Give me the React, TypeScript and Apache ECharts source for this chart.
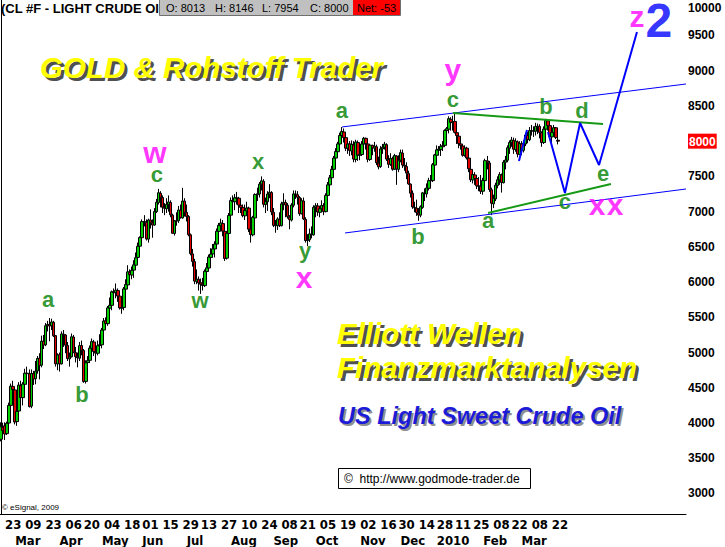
import React, { useEffect, useRef } from "react";
import * as echarts from "echarts";

const FONT = "'Liberation Sans', Arial, Helvetica, sans-serif";
const NARROW = "'Liberation Sans Narrow', 'Arial Narrow', 'DejaVu Sans Condensed', 'Liberation Sans', sans-serif";

// trading-day slots (data + empty projection area)
const SLOT_COUNT = 340;
const categories: string[] = Array.from({ length: SLOT_COUNT }, (_, i) => String(i));

// daily candles [open, close, low, high], price in cents
const feb09 = [
  [3770, 3948, 3740, 4010], [3940, 3894, 3780, 4005], [3960, 3844, 3760, 4010], [3850, 3996, 3830, 4020],
  [4000, 4250, 3920, 4290], [4250, 4522, 4180, 4560], [4520, 4476, 4380, 4600],
];
const mar09 = [
  [4470, 4015, 3980, 4490], [4020, 4165, 3960, 4230], [4170, 4538, 4130, 4580], [4530, 4361, 4300, 4600],
  [4360, 4552, 4250, 4580], [4550, 4707, 4450, 4770], [4700, 4707, 4550, 4800], [4700, 4233, 4220, 4760],
  [4240, 4703, 4210, 4760], [4700, 4625, 4540, 4740], [4630, 4735, 4550, 4880], [4740, 4916, 4700, 4950],
  [4920, 4814, 4620, 4990], [4820, 5161, 4790, 5240], [5160, 5106, 5050, 5250], [5110, 5380, 5090, 5420],
  [5380, 5398, 5300, 5450], [5400, 5377, 5160, 5490], [5380, 5434, 5320, 5480], [5430, 5238, 5220, 5450],
  [5240, 4841, 4800, 5250], [4840, 4966, 4750, 4990],
];
const apr09 = [
  [4970, 4839, 4730, 5000], [4840, 5264, 4830, 5300], [5260, 5251, 5080, 5320], [5250, 5105, 4990, 5260],
  [5100, 4915, 4880, 5150], [4910, 4938, 4800, 5000], [4940, 5224, 4930, 5270], [5220, 5005, 4990, 5250],
  [5000, 4941, 4860, 5080], [4940, 4925, 4790, 5000], [4920, 5098, 4880, 5150], [5100, 5033, 4960, 5170],
  [5030, 4588, 4570, 5050], [4590, 4855, 4560, 4890], [4860, 4886, 4760, 4950], [4890, 5062, 4850, 5100],
  [5060, 5155, 4990, 5200], [5150, 5014, 4950, 5180], [5010, 4992, 4870, 5060], [4990, 5097, 4960, 5170],
  [5100, 5112, 5000, 5260],
];
const may09 = [
  [5110, 5320, 5060, 5350], [5320, 5447, 5270, 5490], [5450, 5411, 5330, 5500], [5410, 5634, 5380, 5660],
  [5630, 5671, 5580, 5780], [5670, 5863, 5600, 5880], [5860, 5850, 5700, 5910], [5850, 5885, 5770, 5980],
  [5880, 5802, 5720, 5910], [5800, 5634, 5610, 5850], [5630, 5634, 5550, 5720], [5640, 5903, 5600, 5930],
  [5900, 5965, 5880, 6040], [5960, 6145, 5920, 6240], [6140, 6105, 5960, 6180], [6100, 6167, 6040, 6220],
  [6170, 6245, 6060, 6310], [6240, 6345, 6220, 6420], [6350, 6508, 6280, 6560], [6510, 6631, 6420, 6650],
];
const jun09 = [
  [6630, 6858, 6620, 6890], [6860, 6855, 6790, 6950], [6850, 6612, 6590, 6890], [6610, 6881, 6560, 6900],
  [6880, 6844, 6760, 7032], [6840, 6809, 6630, 6890], [6810, 7001, 6800, 7050], [7000, 7133, 6980, 7180],
  [7130, 7268, 7100, 7323], [7260, 7204, 7060, 7290], [7200, 7062, 6980, 7230], [7060, 7047, 6950, 7120],
  [7040, 7103, 6980, 7190], [7100, 7137, 7000, 7230], [7130, 6955, 6920, 7160], [6950, 6693, 6690, 6970],
  [6690, 6867, 6660, 6880], [6870, 6867, 6800, 6990], [6870, 7023, 6840, 7080], [7020, 6916, 6900, 7100],
  [6910, 7149, 6900, 7338], [7150, 6989, 6930, 7190],
];
const jul09 = [
  [6990, 6931, 6860, 7100], [6930, 6673, 6650, 6950], [6670, 6405, 6380, 6690], [6400, 6293, 6220, 6470],
  [6290, 6014, 5970, 6330], [6010, 6041, 5970, 6180], [6040, 5989, 5880, 6080], [5990, 5969, 5832, 6050],
  [5970, 5952, 5880, 6060], [5950, 6154, 5930, 6180], [6150, 6202, 6060, 6270], [6200, 6356, 6170, 6390],
  [6350, 6398, 6300, 6480], [6400, 6472, 6350, 6540], [6470, 6540, 6350, 6580], [6540, 6722, 6510, 6760],
  [6720, 6805, 6640, 6840], [6800, 6838, 6730, 6900], [6830, 6723, 6650, 6880], [6720, 6335, 6300, 6740],
  [6340, 6694, 6320, 6720], [6690, 6945, 6660, 6980],
];
const aug09 = [
  [6950, 7158, 6930, 7200], [7150, 7142, 7050, 7230], [7140, 7197, 7020, 7250], [7190, 7194, 7100, 7280],
  [7190, 7093, 6980, 7210], [7090, 7060, 6980, 7160], [7060, 6945, 6920, 7100], [6940, 7016, 6880, 7100],
  [7010, 7052, 6980, 7140], [7050, 6751, 6710, 7070], [6750, 6675, 6560, 6790], [6670, 6919, 6650, 6940],
  [6910, 7242, 6880, 7260], [7240, 7254, 7150, 7340], [7250, 7389, 7200, 7420], [7390, 7437, 7300, 7500],
  [7430, 7105, 7060, 7460], [7100, 7143, 6980, 7200], [7140, 7249, 7010, 7290], [7250, 7274, 7190, 7390],
  [7270, 6996, 6950, 7290],
];
const sep09 = [
  [6990, 6805, 6780, 7050], [6800, 6805, 6700, 6880], [6800, 6896, 6740, 6920], [6890, 6802, 6780, 6990],
  [6800, 7110, 6790, 7140], [7110, 7131, 7020, 7260], [7130, 7094, 6920, 7170], [7090, 6929, 6900, 7120],
  [6920, 6886, 6750, 6950], [6880, 7093, 6860, 7120], [7090, 7251, 7060, 7300], [7250, 7247, 7180, 7300],
  [7240, 7204, 7100, 7290], [7200, 6971, 6940, 7220], [6970, 7155, 6960, 7190], [7150, 6897, 6880, 7200],
  [6890, 6589, 6560, 6920], [6590, 6602, 6510, 6680], [6600, 6684, 6570, 6760], [6680, 6671, 6620, 6790],
  [6670, 7061, 6660, 7090],
];
const oct09 = [
  [7060, 7082, 6920, 7120], [7080, 6995, 6940, 7120], [6990, 7041, 6920, 7080], [7040, 7088, 7000, 7160],
  [7080, 7000, 6950, 7120], [7000, 7230, 6990, 7260], [7230, 7380, 7200, 7420], [7380, 7480, 7350, 7520],
  [7480, 7600, 7450, 7650], [7600, 7760, 7580, 7790], [7760, 7853, 7720, 7900], [7850, 7961, 7800, 7990],
  [7960, 8080, 7900, 8120], [8080, 8137, 7990, 8200], [8130, 8050, 7980, 8180], [8050, 7900, 7860, 8080],
  [7900, 7960, 7820, 8020], [7960, 7868, 7790, 8000], [7860, 7955, 7800, 8010], [7950, 7746, 7700, 8000],
  [7740, 7987, 7700, 8020], [7980, 7800, 7720, 8010],
];
const nov09 = [
  [7800, 7813, 7730, 7960], [7810, 7960, 7790, 8000], [7960, 8040, 7900, 8060], [8040, 7962, 7880, 8050],
  [7960, 7743, 7700, 7990], [7740, 7943, 7720, 7960], [7940, 7905, 7800, 7950], [7900, 7928, 7850, 7990],
  [7920, 7694, 7660, 7950], [7690, 7635, 7600, 7780], [7640, 7890, 7620, 7930], [7890, 7914, 7820, 7960],
  [7910, 7958, 7880, 7990], [7950, 7746, 7720, 7970], [7740, 7672, 7620, 7800], [7670, 7756, 7650, 7830],
  [7750, 7602, 7580, 7780], [7600, 7796, 7590, 7820], [7790, 7605, 7380, 7800], [7600, 7728, 7560, 7800],
];
const dec09 = [
  [7730, 7837, 7700, 7880], [7830, 7660, 7620, 7880], [7660, 7646, 7580, 7760], [7640, 7547, 7460, 7700],
  [7540, 7393, 7380, 7580], [7390, 7262, 7200, 7400], [7260, 7067, 7040, 7300], [7060, 7054, 6990, 7140],
  [7050, 6987, 6940, 7170], [6980, 6951, 6870, 7050], [6950, 7069, 6920, 7090], [7060, 7266, 7040, 7280],
  [7260, 7258, 7150, 7330], [7250, 7336, 7200, 7400], [7330, 7440, 7300, 7480], [7440, 7440, 7370, 7520],
  [7440, 7667, 7420, 7690], [7660, 7805, 7640, 7820], [7800, 7877, 7760, 7940], [7870, 7887, 7800, 7930],
  [7880, 7928, 7790, 7960], [7920, 7936, 7860, 8000],
];
const jan10 = [
  [7940, 8151, 7920, 8168], [8150, 8177, 8060, 8200], [8170, 8318, 8110, 8352], [8310, 8266, 8150, 8340],
  [8260, 8275, 8150, 8360], [8280, 8125, 8110, 8400], [8120, 8079, 7960, 8160], [8070, 7965, 7900, 8090],
  [7960, 7939, 7880, 8010], [7930, 7800, 7780, 7960], [7800, 7902, 7780, 7940], [7900, 7762, 7740, 7920],
  [7760, 7608, 7560, 7780], [7600, 7454, 7420, 7640], [7450, 7526, 7400, 7580], [7520, 7471, 7380, 7560],
  [7470, 7367, 7320, 7520], [7360, 7364, 7290, 7490], [7360, 7289, 7250, 7520],
];
const feb10 = [
  [7290, 7443, 7240, 7480], [7440, 7723, 7420, 7750], [7720, 7698, 7600, 7790], [7690, 7314, 7280, 7720],
  [7310, 7119, 6950, 7340], [7110, 7189, 7050, 7240], [7180, 7375, 7150, 7410], [7370, 7452, 7330, 7500],
  [7450, 7528, 7380, 7560], [7520, 7413, 7270, 7540], [7410, 7701, 7400, 7730], [7700, 7733, 7600, 7790],
  [7730, 7906, 7700, 7940], [7900, 7981, 7820, 8010], [7980, 8016, 7920, 8060], [8010, 7886, 7820, 8050],
  [7880, 8000, 7850, 8040], [7990, 7817, 7770, 8010], [7810, 7966, 7800, 8000],
];
const mar10 = [
  [7960, 7870, 7800, 8000], [7870, 7968, 7840, 8010], [7960, 8087, 7930, 8120], [8080, 8021, 7970, 8130],
  [8020, 8150, 8000, 8200], [8150, 8149, 8080, 8230], [8140, 8145, 8060, 8210], [8140, 8209, 8080, 8260],
  [8200, 8211, 8100, 8250], [8210, 8124, 8040, 8240], [8120, 7980, 7920, 8140], [7980, 8170, 7960, 8210],
  [8170, 8293, 8150, 8316], [8290, 8220, 8150, 8310], [8220, 8068, 8020, 8250], [8060, 8125, 7980, 8160],
  [8120, 8191, 8090, 8230], [8190, 8053, 8030, 8200], [8013, 8000, 7954, 8146],
];

// axis tick labels
const dayTickIdx = [2, 12, 22, 32, 41, 51, 61, 70, 80, 90, 99, 109, 119, 129, 139, 148, 158, 168, 178, 188, 197, 207, 216, 225, 234, 244, 253, 263, 273];
const dayTickText = ["23", "09", "23", "06", "20", "04", "18", "01", "15", "29", "13", "27", "10", "24", "08", "21", "05", "19", "02", "16", "30", "14", "28", "11", "25", "08", "22", "08", "22"];
const monthTickIdx = [7, 29, 50, 70, 92, 114, 135, 156, 178, 198, 216, 239, 258];
const monthTickText = ["Mar", "Apr", "May", "Jun", "Jul", "Aug", "Sep", "Oct", "Nov", "Dec", "2010", "Feb", "Mar"];
const priceTicks = [3000, 3500, 4000, 4500, 5000, 5500, 6000, 6500, 7000, 7500, 8000, 8500, 9000, 9500];
const lastClose = 8000;

// drawn lines [slot, price]
const upperChannel = [[169.0, 8201], [339.5, 8811]];
const lowerChannel = [[170.5, 6697], [339.5, 7321]];
const upperGreen = [[224.0, 8399], [298.4, 8243]];
const lowerGreen = [[241.4, 6980], [302.3, 7392]];
const shortBlue = [[256.7, 7718], [260.7, 8158]];
const projection = [[271.1, 8130], [279.5, 7264], [287.0, 8258], [296.4, 7662], [315.2, 9549]];

// wave labels [text, slot, price]
const greenWaves: [string, number, number][] = [
  ["a", 23.3, 5746], ["b", 40.1, 4398], ["c", 77.3, 7520], ["w", 98.6, 5732], ["x", 127.4, 7718],
  ["y", 150.7, 6455], ["a", 169.0, 8428], ["b", 206.7, 6640], ["c", 224.0, 8598], ["a", 241.4, 6867],
  ["b", 270.1, 8485], ["d", 288.0, 8442], ["c", 279.5, 7137], ["e", 298.4, 7548],
];
const magentaWaves: [string, number, number][] = [
  ["w", 76.3, 7832], ["x", 150.2, 6072], ["y", 224.0, 9010], ["x", 295.4, 7108], ["x", 304.3, 7108], ["z", 315.2, 9762],
];
const blueWaves: [string, number, number][] = [["2", 326.1, 9719]];

const candles = [...feb09, ...mar09, ...apr09, ...may09, ...jun09, ...jul09, ...aug09, ...sep09, ...oct09, ...nov09, ...dec09, ...jan10, ...feb10, ...mar10];

const dayMap = new Map<number, string>(dayTickIdx.map((k, j) => [k, dayTickText[j]]));
const monthMap = new Map<number, string>(monthTickIdx.map((k, j) => [k, monthTickText[j]]));

function lineSeries(data: number[][], color: string, width: number) {
  return {
    type: "line",
    xAxisIndex: 2,
    yAxisIndex: 0,
    data,
    symbol: "none",
    silent: true,
    z: 5,
    lineStyle: { color, width },
  };
}

function labelSeries(items: [string, number, number][], color: string, size: number, weight: string, lineHeight?: number) {
  return {
    type: "scatter",
    xAxisIndex: 2,
    yAxisIndex: 0,
    silent: true,
    z: 10,
    symbolSize: 1,
    itemStyle: { color: "rgba(0,0,0,0)" },
    data: items.map(([t, i, v]) => ({ name: t, value: [i, v] })),
    label: {
      show: true,
      position: "inside",
      formatter: "{b}",
      color,
      fontSize: size,
      fontWeight: weight,
      fontFamily: FONT,
      lineHeight: lineHeight ?? size,
    },
  };
}

function shadowText(text: string, x: number, y: number, fill: string, shadow: string, font: string, off: number) {
  return [
    { type: "text", x: x + off, y: y + off, z: 50, style: { text, fill: shadow, font, verticalAlign: "middle" } },
    { type: "text", x, y, z: 51, style: { text, fill, font, verticalAlign: "middle" } },
  ];
}

export default function App() {
  const ref = useRef<HTMLDivElement>(null);
  useEffect(() => {
    const chart = echarts.init(ref.current!, null, { renderer: "svg" });
    const hdrFont = `11px ${FONT}`;
    const option: any = {
      animation: false,
      backgroundColor: "#ffffff",
      grid: { left: 0, right: 39, top: 0, bottom: 33, containLabel: false, outerBoundsMode: "none" },
      xAxis: [
        {
          type: "category",
          data: categories,
          boundaryGap: true,
          position: "bottom",
          axisLine: { show: true, onZero: false, lineStyle: { color: "#000", width: 1 } },
          axisTick: { show: false },
          splitLine: { show: false },
          axisLabel: {
            interval: (idx: number) => dayMap.has(idx),
            formatter: (val: string) => dayMap.get(Number(val)) ?? "",
            align: "left",
            margin: 4,
            color: "#000",
            fontSize: 13,
            fontWeight: "bold",
            fontFamily: NARROW,
            hideOverlap: false,
          },
        },
        {
          type: "category",
          data: categories,
          boundaryGap: true,
          position: "bottom",
          axisLine: { show: false, onZero: false },
          axisTick: { show: false },
          splitLine: { show: false },
          axisLabel: {
            interval: (idx: number) => monthMap.has(idx),
            formatter: (val: string) => monthMap.get(Number(val)) ?? "",
            align: "left",
            margin: 20,
            color: "#000",
            fontSize: 13,
            fontWeight: "bold",
            fontFamily: NARROW,
            hideOverlap: false,
          },
        },
        { type: "value", min: -0.5, max: SLOT_COUNT - 0.5, show: false },
      ],
      yAxis: {
        type: "value",
        position: "right",
        min: 2709,
        max: 10003,
        scale: true,
        axisLine: { show: true, lineStyle: { color: "#000", width: 1 } },
        axisTick: { show: false },
        splitLine: { show: false },
        axisLabel: {
          customValues: priceTicks,
          formatter: (v: number) => (v === lastClose ? `{cur|${v}}` : String(v)),
          align: "left",
          margin: 2,
          color: "#000",
          fontSize: 12,
          fontWeight: "bold",
          fontFamily: FONT,
          rich: {
            cur: {
              backgroundColor: "#ff0000",
              color: "#ffffff",
              fontSize: 12,
              fontWeight: "bold",
              fontFamily: FONT,
              padding: [2, 1, 1, 1],
            },
          },
        },
      },
      series: [
        {
          type: "candlestick",
          xAxisIndex: 0,
          yAxisIndex: 0,
          data: candles,
          barWidth: 3,
          silent: true,
          z: 2,
          itemStyle: {
            color: "#00d000",
            color0: "#e00000",
            borderColor: "#000000",
            borderColor0: "#000000",
            borderColorDoji: "#000000",
            borderWidth: 1,
          },
        },
        lineSeries(upperChannel, "#0000ff", 1),
        lineSeries(lowerChannel, "#0000ff", 1),
        lineSeries(upperGreen, "#169a16", 2),
        lineSeries(lowerGreen, "#169a16", 2),
        lineSeries(shortBlue, "#0000ff", 2),
        lineSeries(projection, "#0000ff", 2),
        labelSeries(greenWaves, "#008000", 22, "bold"),
        labelSeries(magentaWaves, "#ff00ff", 30, "bold"),
        labelSeries(blueWaves, "#0000ff", 48, "bold", 34),
      ],
      graphic: [
        { type: "text", x: 1, y: 8, z: 40, style: { text: "(CL #F - LIGHT CRUDE OIL", fill: "#000", font: `bold 13px ${FONT}`, verticalAlign: "middle" } },
        { type: "rect", z: 41, shape: { x: 159.5, y: -0.5, width: 241, height: 16 }, style: { fill: "#c0c0c0", stroke: "#707070", lineWidth: 1 } },
        { type: "text", x: 166, y: 8, z: 42, style: { text: "O: 8013", fill: "#000", font: hdrFont, verticalAlign: "middle" } },
        { type: "text", x: 215, y: 8, z: 42, style: { text: "H: 8146", fill: "#000", font: hdrFont, verticalAlign: "middle" } },
        { type: "text", x: 262, y: 8, z: 42, style: { text: "L: 7954", fill: "#000", font: hdrFont, verticalAlign: "middle" } },
        { type: "text", x: 310, y: 8, z: 42, style: { text: "C: 8000", fill: "#000", font: hdrFont, verticalAlign: "middle" } },
        { type: "rect", z: 42, shape: { x: 353, y: 0, width: 47, height: 15 }, style: { fill: "#ff0000" } },
        { type: "text", x: 357, y: 8, z: 43, style: { text: "Net: -53", fill: "#000", font: hdrFont, verticalAlign: "middle" } },
        ...shadowText("GOLD & Rohstoff Trader", 40, 67, "#ffff00", "#505050", `italic bold 29.5px ${FONT}`, 3),
        ...shadowText("Elliott Wellen", 337, 333, "#ffff00", "#505050", `italic bold 29.5px ${FONT}`, 3),
        ...shadowText("Finanzmarktanalysen", 337, 367, "#ffff00", "#505050", `italic bold 29.5px ${FONT}`, 3),
        ...shadowText("US Light Sweet Crude Oil", 338, 416, "#1c1cd8", "#909090", `italic bold 23.5px ${FONT}`, 2),
        { type: "rect", z: 45, shape: { x: 338.5, y: 468.5, width: 192, height: 20 }, style: { fill: "#ffffff", stroke: "#000", lineWidth: 1 } },
        { type: "text", x: 344, y: 479, z: 46, style: { text: "©  http://www.godmode-trader.de", fill: "#000", font: `12px ${FONT}`, verticalAlign: "middle" } },
        { type: "text", x: 2, y: 507, z: 46, style: { text: "© eSignal, 2009", fill: "#000", font: `8px ${FONT}`, verticalAlign: "middle" } },
        { type: "text", x: 688, y: 8, z: 46, style: { text: "10000", fill: "#000", font: `bold 12px ${FONT}`, verticalAlign: "middle" } },
      ],
    };
    chart.setOption(option);
    return () => chart.dispose();
  }, []);
  return (
    <div
      ref={ref}
      style={{ position: "absolute", left: 0, top: 0, width: 725, height: 547, background: "#fff" }}
    />
  );
}
